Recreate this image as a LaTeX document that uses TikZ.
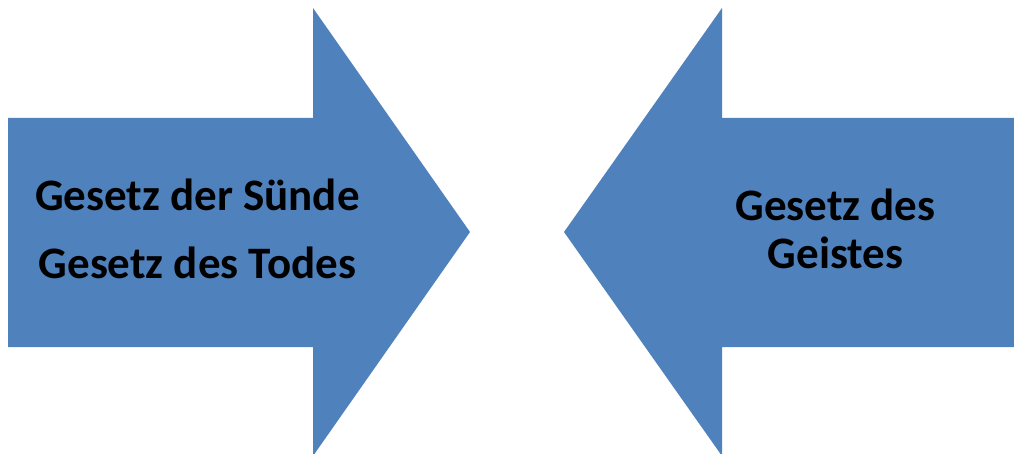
\documentclass[tikz,border=0pt]{standalone}
\usepackage{fontspec}
\setmainfont{Carlito}
\definecolor{arrowblue}{HTML}{4F81BD}
\begin{document}
\begin{tikzpicture}[x=1pt,y=-1pt,
  blockarrow/.style={fill=arrowblue,draw=none},
  lbl/.style={anchor=base,inner sep=0pt,font=\fontsize{45}{54}\selectfont\bfseries,text=black}]
\useasboundingbox (0,0) rectangle (1014,454);
\fill[blockarrow] (8,118) -- (313,118) -- (313,8) -- (470,232) -- (313,456) -- (313,347) -- (8,347) -- cycle;
\fill[blockarrow] (1014,118) -- (722,118) -- (722,8) -- (564,232) -- (722,456) -- (722,347) -- (1014,347) -- cycle;
\node[lbl] (l1) at (197.5,211) {Gesetz der Sünde};
\node[lbl] (l2) at (197.5,279) {Gesetz des Todes};
\node[lbl] (r1) at (835.5,221) {Gesetz des};
\node[lbl] (r2) at (835.5,269) {Geistes};
\end{tikzpicture}
\end{document}
